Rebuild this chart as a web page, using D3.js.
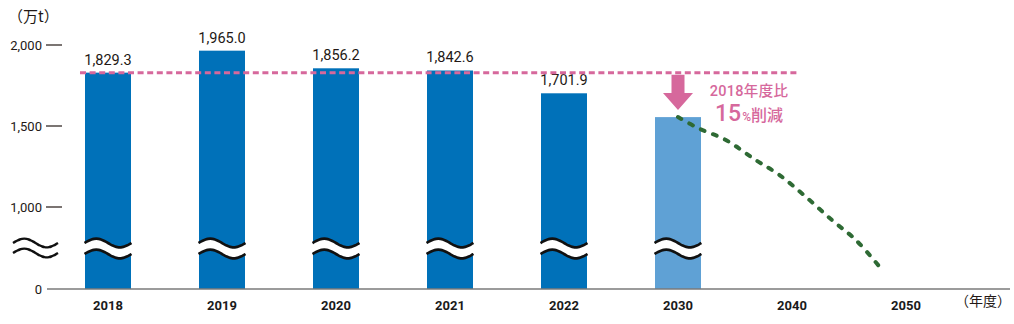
<!DOCTYPE html>
<html lang="ja">
<head>
<meta charset="utf-8">
<script src="https://cdn.jsdelivr.net/npm/d3@7/dist/d3.min.js"></script>
<style>
  html, body { margin: 0; padding: 0; background: #fff; }
  svg { display: block; }
  text { font-family: Roboto, "Noto Sans CJK JP", sans-serif; }
</style>
</head>
<body>
<svg id="chart" width="1014" height="324"></svg>
<script>
// Emissions by fiscal year (10,000 t)
const categories = ["2018", "2019", "2020", "2021", "2022", "2030", "2040", "2050"];
const barYears = ["2018", "2019", "2020", "2021", "2022", "2030"];
const emissions = [1829.3, 1965.0, 1856.2, 1842.6, 1701.9, 1554.9];
const valueLabels = ["1,829.3", "1,965.0", "1,856.2", "1,842.6", "1,701.9", ""];
const targetYear = "2030";
const baseValue = 1829.3;          // FY2018 reference level

// Projected path after 2030
const trendYears = [2030, 2031.8, 2034.2, 2036.8, 2038.9, 2041.2, 2043.5, 2045.6, 2047.6];
const trendValues = [1554.9, 1485.8, 1413.6, 1290.1, 1197.5, 1063.6, 841, 597.6, 284];

// Y axis (broken between 0 and 1,000)
const yTicks = [0, 1000, 1500, 2000];
const yTickLabels = ["0", "1,000", "1,500", "2,000"];

const svg = d3.select("#chart");

const x = d3.scaleBand()
  .domain(categories)
  .range([51, 963])
  .paddingInner(0.5965)
  .paddingOuter(0.2982);
const bw = x.bandwidth();
const cx = c => x(c) + bw / 2;

// Piecewise scale: compressed segment below 1,000
const y = d3.scaleLinear()
  .domain([0, 1000, 2000])
  .range([289, 207, 45]);

const xYear = d3.scaleLinear()
  .domain([2030, 2050])
  .range([cx("2030"), cx("2050")]);

const blue = "#0071b9", lightBlue = "#5fa1d5", pink = "#d6689c", green = "#2e6a34";

// Unit label
svg.append("text").attr("x", 8).attr("y", 22)
  .attr("font-size", 15).attr("fill", "#231815")
  .style("font-family", "'Noto Sans CJK JP', sans-serif")
  .text("（万t）");

// Y ticks
const yAxis = svg.append("g");
yTicks.forEach((v, i) => {
  yAxis.append("text")
    .attr("x", 42).attr("y", y(v) + 4.5)
    .attr("text-anchor", "end").attr("font-size", 13)
    .attr("fill", "#231815").text(yTickLabels[i]);
  if (v > 0) {
    yAxis.append("line")
      .attr("x1", 46).attr("x2", 62).attr("y1", y(v)).attr("y2", y(v))
      .attr("stroke", "#231815").attr("stroke-width", 1.2);
  }
});

// Bars
svg.append("g").selectAll("rect")
  .data(barYears.map((c, i) => ({ c, v: emissions[i], label: valueLabels[i] })))
  .join("rect")
  .attr("x", d => x(d.c))
  .attr("y", d => y(d.v))
  .attr("width", bw)
  .attr("height", d => y(0) - y(d.v))
  .attr("fill", d => d.c === targetYear ? lightBlue : blue);

// Break marks across the bars
const waveAmp = 4.4;
function wavePath(x0, w, cy) {
  return d3.range(0, 1.0001, 0.05).map(t => [x0 + t * w, cy - waveAmp * Math.sin(2 * Math.PI * t)]);
}
const breakTop = 243, breakBottom = 254;
const brk = svg.append("g");
barYears.forEach(c => {
  const top = wavePath(x(c) - 0.5, bw + 1, breakTop);
  const bottom = wavePath(x(c) - 0.5, bw + 1, breakBottom);
  const band = top.concat(bottom.slice().reverse());
  brk.append("path").attr("d", d3.line()(band) + "Z").attr("fill", "#fff");
  [top, bottom].forEach(p => brk.append("path")
    .attr("d", d3.line().curve(d3.curveBasis)(p))
    .attr("fill", "none").attr("stroke", "#111").attr("stroke-width", 2.6));
});
// Break mark on the value axis
[breakTop, breakBottom - 1].forEach(cy => {
  svg.append("path")
    .attr("d", d3.line().curve(d3.curveBasis)(wavePath(13, 45, cy)))
    .attr("fill", "none").attr("stroke", "#111").attr("stroke-width", 2.4);
});

// Baseline
svg.append("line")
  .attr("x1", 47).attr("x2", 1010).attr("y1", y(0)).attr("y2", y(0))
  .attr("stroke", "#7a7a7a").attr("stroke-width", 1.5);

// Category labels
svg.append("g").selectAll("text")
  .data(categories).join("text")
  .attr("x", d => cx(d)).attr("y", 310)
  .attr("text-anchor", "middle").attr("font-size", 13).attr("font-weight", 700)
  .attr("fill", "#1a1a1a").text(d => d);
svg.append("text").attr("x", 1011).attr("y", 306)
  .attr("text-anchor", "end").attr("font-size", 14).attr("fill", "#231815")
  .style("font-family", "'Noto Sans CJK JP', sans-serif")
  .text("（年度）");

// Value labels
svg.append("g").selectAll("text")
  .data(barYears.map((c, i) => ({ c, v: emissions[i], label: valueLabels[i] })).filter(d => d.label))
  .join("text")
  .attr("x", d => cx(d.c)).attr("y", d => y(d.v) - 8)
  .attr("text-anchor", "middle").attr("font-size", 14.5)
  .attr("fill", "#231815").text(d => d.label);

// FY2018 reference line
svg.append("line")
  .attr("x1", x("2018") - 5).attr("x2", cx("2040") + 5)
  .attr("y1", y(baseValue)).attr("y2", y(baseValue))
  .attr("stroke", pink).attr("stroke-width", 3)
  .attr("stroke-dasharray", "6,3.6");

// Reduction arrow
const ax = cx(targetYear), aTop = y(baseValue) + 2, aHead = 93, aTip = 110;
svg.append("path")
  .attr("d", `M${ax - 6.5},${aTop} L${ax + 6.5},${aTop} L${ax + 6.5},${aHead} L${ax + 15},${aHead} L${ax},${aTip} L${ax - 15},${aHead} L${ax - 6.5},${aHead} Z`)
  .attr("fill", pink);

// Reduction note
const note = svg.append("g").attr("fill", pink)
  .style("font-family", "'Noto Sans CJK JP', Roboto, sans-serif");
note.append("text").attr("x", 749).attr("y", 96)
  .attr("text-anchor", "middle").attr("font-size", 14.5).attr("font-weight", 500)
  .attr("letter-spacing", 0.3)
  .text("2018年度比");
const t2 = note.append("text").attr("x", 749).attr("y", 121)
  .attr("text-anchor", "middle").attr("font-weight", 500);
t2.append("tspan").attr("font-size", 23).style("font-family", "Roboto, sans-serif").text("15");
t2.append("tspan").attr("font-size", 12).attr("dx", 1).text("%");
t2.append("tspan").attr("font-size", 16).text("削減");

// Projected path to 2050
svg.append("path")
  .datum(trendYears.map((yr, i) => [yr, trendValues[i]]))
  .attr("d", d3.line().x(d => xYear(d[0])).y(d => y(d[1])).curve(d3.curveCatmullRom))
  .attr("fill", "none").attr("stroke", green).attr("stroke-width", 4)
  .attr("stroke-linecap", "round").attr("stroke-dasharray", "4,9");
</script>
</body>
</html>
